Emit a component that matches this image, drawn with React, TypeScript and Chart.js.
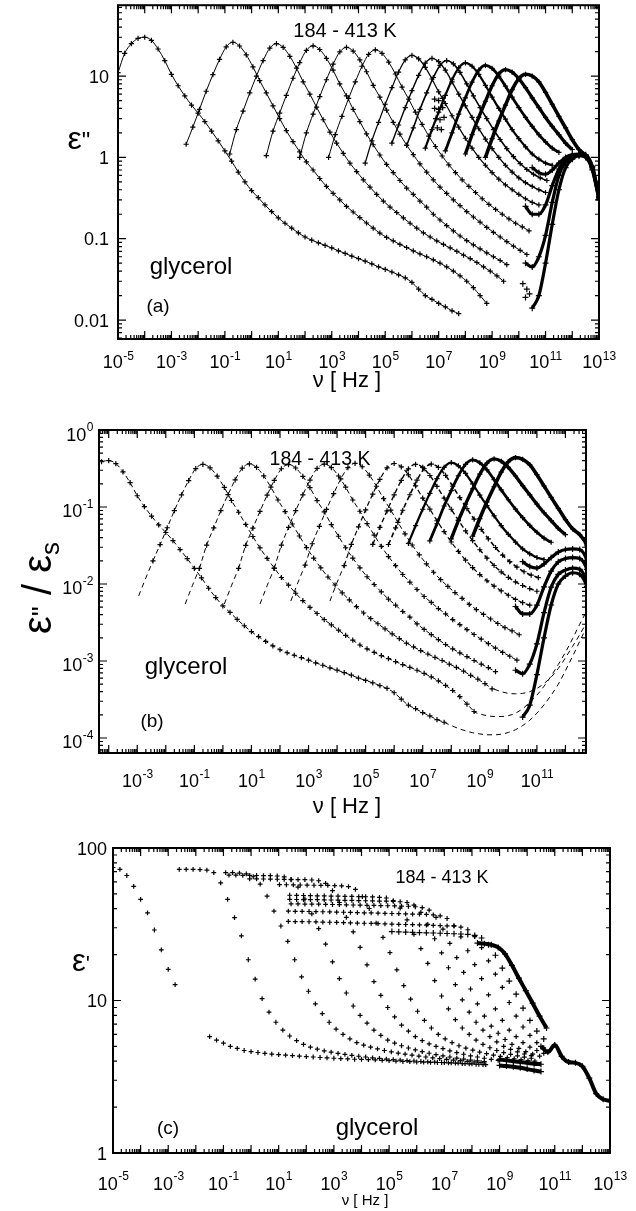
import React, { useEffect, useRef } from "react";
import { Chart, registerables } from "chart.js";

Chart.register(...registerables);

// ---------------- data ----------------
// measured frequencies are spaced by FREQ_STEP decades, starting at the given log10(nu)
const FREQ_STEP = 0.25;

const temperaturesK = [184, 195, 204, 213, 223, 234, 253, 263, 273, 295, 323, 363, 413];
const epsStatic = [75, 72.5, 69, 66, 62.5, 57, 49, 46, 43, 38.5, 33, 28.5, 24];

// panel (a): dielectric loss eps''
const lossStart = [-5.0, -2.45, -0.82, 0.55, 1.8, 2.88, 4.25, 5.25, 5.8, 6.5, 7.25, 8.0, 8.75];
const loss184 = [11, 19, 25, 29, 30, 27.5, 21.5, 15.5, 10.5, 7.6, 5.7, 4.4, 3.5, 2.75, 2.1, 1.6, 1.2, 0.9, 0.66, 0.5, 0.39, 0.32, 0.26, 0.215, 0.18, 0.155, 0.135, 0.118, 0.105, 0.096, 0.089, 0.083, 0.077, 0.071, 0.066, 0.061, 0.057, 0.053, 0.049, 0.045, 0.042, 0.039, 0.036, 0.033, 0.029, 0.024, 0.02, 0.018, 0.016, 0.0145, 0.013, 0.012];
const loss195 = [1.45, 2.35, 3.9, 6.5, 10.4, 16, 22.9, 26, 23.4, 18.2, 13, 8.8, 6.2, 4.3, 3.0, 2.13, 1.56, 1.17, 0.88, 0.7, 0.55, 0.44, 0.36, 0.3, 0.25, 0.213, 0.182, 0.156, 0.135, 0.117, 0.104, 0.094, 0.085, 0.078, 0.071, 0.065, 0.06, 0.055, 0.05, 0.045, 0.04, 0.035, 0.03, 0.025, 0.02, 0.016];
const loss204 = [1.1, 2.2, 3.7, 6.2, 10, 15.5, 22, 25, 22.5, 17.5, 12.5, 8.5, 6.0, 4.15, 2.9, 2.05, 1.5, 1.12, 0.85, 0.67, 0.53, 0.43, 0.35, 0.29, 0.245, 0.21, 0.18, 0.155, 0.135, 0.118, 0.105, 0.094, 0.085, 0.077, 0.07, 0.063, 0.057, 0.051, 0.045, 0.04, 0.035, 0.03];
const loss213 = [1.05, 2.1, 3.5, 5.8, 9.4, 14.6, 20.7, 23.5, 21.2, 16.5, 11.8, 8.0, 5.7, 3.9, 2.75, 1.95, 1.43, 1.07, 0.82, 0.65, 0.52, 0.42, 0.35, 0.29, 0.245, 0.2, 0.17, 0.145, 0.125, 0.108, 0.095, 0.084, 0.075, 0.067, 0.06, 0.054, 0.048];
const loss223 = [1.0, 2.0, 3.4, 5.6, 9.0, 14, 19.8, 22.5, 20.3, 15.8, 11.3, 7.7, 5.5, 3.8, 2.7, 1.93, 1.42, 1.08, 0.83, 0.66, 0.53, 0.43, 0.36, 0.3, 0.255, 0.215, 0.185, 0.16, 0.138, 0.12, 0.105, 0.092, 0.081, 0.072, 0.064];
const loss234 = [1.0, 1.9, 3.2, 5.3, 8.5, 13.2, 18.5, 21, 19, 14.8, 10.6, 7.3, 5.2, 3.6, 2.55, 1.83, 1.36, 1.04, 0.81, 0.65, 0.53, 0.44, 0.37, 0.31, 0.265, 0.23, 0.2, 0.175, 0.155, 0.14, 0.125];
const loss253 = [0.85, 1.6, 2.7, 4.5, 7.2, 11.2, 15.8, 18, 16.3, 12.8, 9.2, 6.4, 4.6, 3.25, 2.35, 1.72, 1.3, 1.0, 0.8, 0.65, 0.54, 0.46, 0.4, 0.35, 0.31, 0.28, 0.26];
const loss263 = [1.5, 2.5, 4.1, 6.6, 10.2, 14.4, 16.5, 15, 11.8, 8.5, 6.0, 4.3, 3.1, 2.25, 1.68, 1.28, 1.0, 0.8, 0.66, 0.56, 0.49, 0.44, 0.4, 0.37];
const loss273 = [1.4, 2.3, 3.9, 6.2, 9.6, 13.5, 15.5, 14.1, 11.1, 8.0, 5.7, 4.1, 3.0, 2.2, 1.66, 1.28, 1.02, 0.84, 0.71, 0.62, 0.56, 0.52];
const loss295 = [1.3, 2.2, 3.6, 5.8, 9.0, 12.6, 14.5, 13.2, 10.5, 7.7, 5.5, 4.0, 2.95, 2.2, 1.7, 1.35, 1.1, 0.95, 0.85, 0.8];
const loss323 = [1.2, 2.0, 3.4, 5.4, 8.4, 11.8, 13.5, 12.4, 10.0, 7.5, 5.5, 4.1, 3.1, 2.4, 1.9, 1.55, 1.3, 1.15];
const loss363 = [1.1, 1.9, 3.1, 4.9, 7.6, 10.6, 12, 11.2, 9.3, 7.2, 5.4, 4.1, 3.1, 2.4, 1.9, 1.5, 1.25];
const loss413 = [1.0, 1.7, 2.8, 4.4, 6.8, 9.3, 10.5, 10.0, 8.5, 6.3, 4.5, 3.2, 2.3, 1.65, 1.25, 1.05, 0.75, 0.32];

// high-frequency (GHz-THz) loss data
const hfLossStart = [10.5, 10.25, 10.25, 10.5];
const hfLossTempIndex = [0, 3, 6, 9];
const hfLoss184 = [0.014, 0.02, 0.05, 0.15, 0.4, 0.75, 0.95, 1.05, 1.0, 0.7, 0.3];
const hfLoss213 = [0.05, 0.045, 0.06, 0.11, 0.28, 0.6, 0.88, 1.0, 1.06, 1.02, 0.72, 0.31];
const hfLoss253 = [0.25, 0.2, 0.2, 0.26, 0.45, 0.72, 0.95, 1.05, 1.08, 1.05, 0.76, 0.32];
const hfLoss295 = [0.75, 0.65, 0.62, 0.7, 0.85, 1.0, 1.08, 1.1, 1.08, 0.78, 0.33];

// sparse extra points
const sparseLogNu = [6.85, 7.0, 7.15, 6.85, 7.0, 7.15, 6.9, 7.05, 7.2, 6.95, 7.1, 10.15, 10.3, 10.4, 10.25];
const sparseLoss = [5.2, 5.0, 5.3, 4.0, 3.9, 4.1, 3.0, 2.9, 3.1, 2.3, 2.2, 0.028, 0.024, 0.021, 0.019];

// panel (b): fit curves (eps''/eps_s) beyond the data
const fitMinStart = [7.75, 8.75, 9.5];
const fitMin184 = [1.6e-4, 1.45e-4, 1.33e-4, 1.24e-4, 1.17e-4, 1.13e-4, 1.1e-4, 1.1e-4, 1.12e-4, 1.18e-4, 1.28e-4, 1.45e-4, 1.7e-4, 2.1e-4, 2.7e-4, 3.6e-4, 5e-4, 7.5e-4, 1.15e-3, 1.8e-3, 2.8e-3];
const fitMin195 = [2.2e-4, 2.05e-4, 1.95e-4, 1.9e-4, 1.9e-4, 1.95e-4, 2.1e-4, 2.4e-4, 2.9e-4, 3.6e-4, 4.7e-4, 6.4e-4, 9e-4, 1.3e-3, 1.95e-3, 3e-3, 4.5e-3];
const fitMin204 = [4.3e-4, 4.0e-4, 3.8e-4, 3.75e-4, 3.8e-4, 4.0e-4, 4.4e-4, 5.1e-4, 6.2e-4, 8e-4, 1.1e-3, 1.55e-3, 2.2e-3, 3.2e-3];
const fitLowLogNu = [-2.95, -1.32, 0.05, 1.3, 2.38, 3.75];
const fitLowA = [0.007, 0.0055, 0.0055, 0.0055, 0.006, 0.006];
const fitLowB = [0.012, 0.0095, 0.0095, 0.0095, 0.0105, 0.0105];

// panel (c): dielectric constant eps'
const realStart = [-5.0, -2.6, -0.92, -0.8, -0.05, 1.03, 1.4, 1.4, 1.45, 1.35, 1.35, 5.1, 8.2];
const real184 = [74.5, 72.5, 66, 56, 46, 37.5, 29, 21.5, 16, 12.7];
const real195 = [72.5, 72.5, 72.4, 72.2, 71.5, 69, 59, 46, 35, 26.5, 18.5, 13.8, 10.3, 8.4, 7.2, 6.4, 5.85, 5.45, 5.15, 4.95, 4.8, 4.68, 4.58, 4.5, 4.43, 4.37, 4.31, 4.26, 4.21, 4.17, 4.13, 4.1, 4.07, 4.04, 4.01, 3.98, 3.96, 3.94, 3.92, 3.9, 3.88, 3.86, 3.84, 3.82, 3.8];
const real204 = [69.0, 68.9, 68.5, 67.7, 64.8, 58.0, 48.3, 38.6, 30.8, 24.4, 18.5, 14.3, 11.5, 9.5, 8.2, 7.2, 6.5, 6.0, 5.6, 5.3, 5.1, 4.95, 4.82, 4.7, 4.6, 4.52, 4.45, 4.38, 4.32, 4.26, 4.21, 4.16, 4.11, 4.07, 4.03, 3.99, 3.95, 3.92];
const real213 = [66.4, 66.3, 66.2, 66.1, 66.0, 65.9, 65.8, 65.5, 64.7, 61.9, 55.4, 46.3, 37.0, 29.6, 23.4, 17.9, 13.9, 11.2, 9.2, 8.0, 7.1, 6.4, 5.9, 5.5, 5.25, 5.05, 4.88, 4.74, 4.62, 4.51, 4.42, 4.34, 4.26, 4.19, 4.13, 4.07, 4.02, 3.97];
const real223 = [62.8, 62.7, 62.6, 62.5, 62.4, 62.3, 62.2, 62.1, 62.0, 61.7, 61.0, 58.7, 52.6, 43.9, 35.1, 28.2, 22.3, 17.1, 13.3, 10.8, 9.0, 7.8, 6.9, 6.3, 5.8, 5.45, 5.2, 5.0, 4.83, 4.68, 4.55, 4.44, 4.34, 4.26, 4.18, 4.11, 4.05];
const real234 = [57.5, 57.4, 57.3, 57.2, 57.1, 57.0, 56.9, 56.8, 56.7, 56.4, 55.8, 53.6, 48.0, 40.1, 32.2, 25.9, 20.6, 15.9, 12.5, 10.2, 8.5, 7.4, 6.6, 6.0, 5.6, 5.3, 5.05, 4.87, 4.72, 4.59, 4.48, 4.38, 4.3, 4.22, 4.15, 4.09, 4.04, 4.0];
const real253 = [49.0, 48.9, 48.8, 48.7, 48.6, 48.5, 48.4, 48.3, 48.2, 48.1, 48.0, 47.9, 47.8, 47.5, 47.0, 45.2, 40.4, 33.8, 27.1, 21.9, 17.5, 13.5, 10.7, 8.8, 7.5, 6.6, 6.0, 5.5, 5.15, 4.9, 4.7, 4.55, 4.43, 4.33, 4.25, 4.18];
const real263 = [46.0, 45.95, 45.9, 45.85, 45.8, 45.7, 45.6, 45.5, 45.4, 45.3, 45.2, 45.1, 45.0, 44.9, 44.8, 44.7, 44.4, 43.9, 42.2, 37.8, 31.6, 25.4, 20.5, 16.4, 12.7, 10.1, 8.4, 7.2, 6.4, 5.8, 5.35, 5.0, 4.78, 4.6, 4.46, 4.35];
const real273 = [43.0, 42.95, 42.9, 42.85, 42.8, 42.7, 42.6, 42.5, 42.4, 42.3, 42.2, 42.1, 42.0, 41.9, 41.8, 41.7, 41.6, 41.5, 41.2, 40.7, 39.1, 35.1, 29.4, 23.7, 19.1, 15.3, 11.9, 9.5, 7.9, 6.8, 6.1, 5.55, 5.15, 4.85, 4.62, 4.45, 4.32];
const real295 = [38.5, 38.45, 38.4, 38.35, 38.3, 38.2, 38.1, 38.0, 37.9, 37.8, 37.7, 37.6, 37.5, 37.4, 37.3, 37.2, 37.1, 37.0, 36.9, 36.8, 36.7, 36.4, 35.9, 34.5, 31.0, 26.1, 21.2, 17.2, 13.9, 10.9, 8.8, 7.4, 6.4, 5.8, 5.3, 4.95, 4.7, 4.5];
const real323 = [33.0, 32.95, 32.9, 32.85, 32.8, 32.7, 32.6, 32.5, 32.4, 32.3, 32.2, 32.1, 32.0, 31.9, 31.8, 31.7, 31.6, 31.5, 31.4, 31.3, 31.2, 31.1, 31.0, 30.9, 30.7, 30.3, 29.1, 26.2, 22.2, 18.2, 14.9, 12.2, 9.7, 7.9, 6.7, 5.9, 5.3, 4.9];
const real363 = [28.3, 28.2, 28.1, 28.0, 27.9, 27.8, 27.7, 27.6, 27.5, 27.4, 27.3, 27.1, 26.7, 25.7, 23.2, 19.8, 16.3, 13.4, 11.0, 8.9, 7.4, 6.3, 5.6];
const real413 = [23.8, 23.6, 23.2, 22.3, 20.2, 17.0, 14.0, 11.6, 9.6, 7.9, 6.6];
const real184HighStart = -1.5;
const real184High = [5.8, 5.5, 5.25, 5.0, 4.85, 4.7, 4.62, 4.56, 4.5, 4.45, 4.41, 4.38, 4.35, 4.32, 4.29, 4.26, 4.23, 4.2, 4.18, 4.16, 4.14, 4.12, 4.11, 4.1, 4.08, 4.05, 4.03, 4.0, 3.98, 3.97, 3.95, 3.94, 3.93, 3.92, 3.91, 3.9, 3.88, 3.86, 3.84, 3.82, 3.8];
const hfRealStart = [9.0, 9.0];
const hfRealLow = [3.75, 3.72, 3.68, 3.62, 3.55, 3.48, 3.42];
const hfRealHigh = [4.1, 4.05, 4.0, 3.95, 3.9, 3.85, 3.82];
const farIrStart = 10.5;
const farIrReal = [5.0, 4.6, 5.1, 4.3, 3.95, 3.9, 3.7, 3.1, 2.45, 2.25, 2.2];

// tick labels
const decadeLabelsAC = [-5, -3, -1, 1, 3, 5, 7, 9, 11, 13];
const decadeLabelsB = [-3, -1, 1, 3, 5, 7, 9, 11];
const yTickValuesA = [10, 1, 0.1, 0.01];
const yTickTextA = ["10", "1", "0.1", "0.01"];
const yTickExpB = [0, -1, -2, -3, -4];
const yTickValuesC = [100, 10, 1];
const yTickTextC = ["100", "10", "1"];

// ---------------- styling / assembly ----------------
const FONT = '"Liberation Sans", Arial, Helvetica, sans-serif';
const lossSeries = [loss184, loss195, loss204, loss213, loss223, loss234, loss253, loss263, loss273, loss295, loss323, loss363, loss413];
const hfLossSeries = [hfLoss184, hfLoss213, hfLoss253, hfLoss295];
const fitMinSeries = [fitMin184, fitMin195, fitMin204];
const realSeries = [real184, real195, real204, real213, real223, real234, real253, real263, real273, real295, real323, real363, real413];
const hfRealSeries = [hfRealLow, hfRealHigh];
const lossLineWidth = [1, 1, 1, 1, 1, 1, 1.2, 1.4, 1.6, 2.2, 2.8, 3.4, 3.6];

type XY = { x: number; y: number };
function toPoints(startExp: number, values: number[], divisor = 1): XY[] {
  return values.map((v, i) => ({ x: Math.pow(10, startExp + i * FREQ_STEP), y: v / divisor }));
}
function style(width: number, dash: number[] | null, radius: number, line: boolean) {
  return {
    showLine: line,
    borderColor: "#000",
    backgroundColor: "#000",
    borderWidth: width,
    borderDash: dash ?? [],
    pointStyle: "cross",
    pointRadius: radius,
    pointBorderWidth: 1.2,
    pointBorderColor: "#000",
    pointBackgroundColor: "#000",
    cubicInterpolationMode: "monotone",
  };
}

const datasetsA = [
  ...lossSeries.map((vals, i) => ({ data: toPoints(lossStart[i], vals), ...style(lossLineWidth[i], null, 2.6, true) })),
  ...hfLossSeries.map((vals, j) => ({ data: toPoints(hfLossStart[j], vals), ...style(3.2, null, 3, true) })),
  { data: sparseLogNu.map((e, i) => ({ x: Math.pow(10, e), y: sparseLoss[i] })), ...style(1, null, 3, false) },
];

const datasetsB = [
  ...lossSeries.map((vals, i) => ({
    data: toPoints(lossStart[i], vals, epsStatic[i]),
    ...style(lossLineWidth[i], lossLineWidth[i] > 2 ? null : [5, 3], 2.6, true),
  })),
  ...hfLossSeries.map((vals, j) => ({ data: toPoints(hfLossStart[j], vals, epsStatic[hfLossTempIndex[j]]), ...style(3.2, null, 3, true) })),
  ...fitMinSeries.map((vals, k) => ({ data: toPoints(fitMinStart[k], vals), ...style(1, [5, 4], 0, true) })),
  ...fitLowLogNu.map((e, j) => ({
    data: [
      { x: Math.pow(10, e), y: fitLowA[j] },
      { x: Math.pow(10, e + FREQ_STEP), y: fitLowB[j] },
      { x: Math.pow(10, lossStart[j + 1]), y: lossSeries[j + 1][0] / epsStatic[j + 1] },
    ],
    ...style(1, [5, 4], 0, true),
  })),
];

const datasetsC = [
  ...realSeries.map((vals, i) => ({
    data: toPoints(realStart[i], vals),
    ...style(i === 12 ? 4 : 0, null, i >= 11 ? 3 : 2.4, i === 12),
  })),
  { data: toPoints(real184HighStart, real184High), ...style(0, null, 2.4, false) },
  ...hfRealSeries.map((vals, j) => ({ data: toPoints(hfRealStart[j], vals), ...style(4, null, 3, true) })),
  { data: toPoints(farIrStart, farIrReal), ...style(4, null, 3, true) },
];

type Part = { t: string; size: number; dy?: number };
type TextItem = { parts: Part[]; x: number; y: number; rotate?: boolean };
type YLabel = { v: number; text?: string; exp?: number };
type Panel = {
  top: number;
  height: number;
  pad: { left: number; right: number; top: number; bottom: number };
  xMin: number; xMax: number; yMin: number; yMax: number;
  xExps: number[]; xBase: number; xRise: number;
  yLabels: YLabel[]; yRight: number; yDy: number; yRise: number;
  texts: TextItem[];
  datasets: any[];
};

const panels: Panel[] = [
  {
    top: 0, height: 400,
    pad: { left: 118, right: 37, top: 5, bottom: 61 },
    xMin: 1e-5, xMax: 1e13, yMin: 0.00585, yMax: 74.3,
    xExps: decadeLabelsAC, xBase: 368, xRise: 8,
    yLabels: yTickValuesA.map((v, i) => ({ v, text: yTickTextA[i] })), yRight: 109, yDy: 6.5, yRise: 0,
    texts: [
      { parts: [{ t: "ε", size: 32 }, { t: '"', size: 24 }], x: 79, y: 149 },
      { parts: [{ t: "184 - 413 K", size: 20 }], x: 345, y: 37 },
      { parts: [{ t: "glycerol", size: 24 }], x: 191, y: 274 },
      { parts: [{ t: "(a)", size: 19 }], x: 158, y: 312 },
      { parts: [{ t: "ν [ Hz ]", size: 22 }], x: 347, y: 387 },
    ],
    datasets: datasetsA,
  },
  {
    top: 400, height: 420,
    pad: { left: 99, right: 50, top: 30, bottom: 67 },
    xMin: Math.pow(10, -4.34), xMax: Math.pow(10, 12.72), yMin: Math.pow(10, -4.195), yMax: 1,
    xExps: decadeLabelsB, xBase: 387, xRise: 9,
    yLabels: yTickExpB.map((e) => ({ v: Math.pow(10, e), exp: e })), yRight: 93, yDy: 10.5, yRise: 9.5,
    texts: [
      { parts: [{ t: "ε", size: 40 }, { t: '"', size: 28 }, { t: " / ", size: 40 }, { t: "ε", size: 40 }, { t: "s", size: 26, dy: 8 }], x: 40, y: 188, rotate: true },
      { parts: [{ t: "184 - 413 K", size: 19.5 }], x: 320, y: 65 },
      { parts: [{ t: "glycerol", size: 24 }], x: 186, y: 274 },
      { parts: [{ t: "(b)", size: 19 }], x: 152, y: 327 },
      { parts: [{ t: "ν [ Hz ]", size: 22 }], x: 347, y: 413 },
    ],
    datasets: datasetsB,
  },
  {
    top: 800, height: 411,
    pad: { left: 113, right: 26, top: 48, bottom: 58 },
    xMin: 1e-5, xMax: 1e13, yMin: 1, yMax: 100,
    xExps: decadeLabelsAC, xBase: 390, xRise: 10,
    yLabels: yTickValuesC.map((v, i) => ({ v, text: yTickTextC[i] })), yRight: 107, yDy: 6.5, yRise: 0,
    texts: [
      { parts: [{ t: "ε", size: 31 }, { t: "'", size: 22 }], x: 81, y: 171 },
      { parts: [{ t: "184 - 413 K", size: 18 }], x: 442, y: 83 },
      { parts: [{ t: "(c)", size: 19 }], x: 168, y: 334 },
      { parts: [{ t: "glycerol", size: 24 }], x: 377, y: 335 },
      { parts: [{ t: "ν [ Hz ]", size: 15 }], x: 365, y: 405 },
    ],
    datasets: datasetsC,
  },
];

function logTicks(min: number, max: number) {
  const out: { v: number; major: boolean }[] = [];
  for (let k = Math.floor(Math.log10(min)); k <= Math.ceil(Math.log10(max)); k++) {
    for (let m = 1; m <= 9; m++) {
      const v = m * Math.pow(10, k);
      if (v >= min * 0.9999 && v <= max * 1.0001) out.push({ v, major: m === 1 });
    }
  }
  return out;
}

function drawPower(ctx: CanvasRenderingContext2D, x: number, base: number, exp: number, align: "center" | "right", rise: number) {
  const big = `18px ${FONT}`;
  const small = `12px ${FONT}`;
  ctx.font = big;
  const w1 = ctx.measureText("10").width;
  ctx.font = small;
  const es = String(exp);
  const w2 = ctx.measureText(es).width;
  const left = align === "center" ? x - (w1 + w2) / 2 : x - (w1 + w2);
  ctx.textAlign = "left";
  ctx.textBaseline = "alphabetic";
  ctx.font = big;
  ctx.fillText("10", left, base);
  ctx.font = small;
  ctx.fillText(es, left + w1 + 0.5, base - rise);
}

function drawText(ctx: CanvasRenderingContext2D, item: TextItem) {
  ctx.save();
  ctx.textAlign = "left";
  ctx.textBaseline = "alphabetic";
  const widths = item.parts.map((p) => {
    ctx.font = `${p.size}px ${FONT}`;
    return ctx.measureText(p.t).width;
  });
  const total = widths.reduce((a, b) => a + b, 0);
  ctx.translate(item.x, item.y);
  let base = 0;
  if (item.rotate) {
    ctx.rotate(-Math.PI / 2);
    base = item.parts[0].size * 0.27;
  }
  let cx = -total / 2;
  item.parts.forEach((p, i) => {
    ctx.font = `${p.size}px ${FONT}`;
    ctx.fillText(p.t, cx, base + (p.dy ?? 0));
    cx += widths[i];
  });
  ctx.restore();
}

function makeDecor(cfg: Panel) {
  return {
    id: "decor",
    afterDraw(chart: any) {
      const ctx: CanvasRenderingContext2D = chart.ctx;
      const a = chart.chartArea;
      const xs = chart.scales.x;
      const ys = chart.scales.y;
      ctx.save();
      ctx.strokeStyle = "#000";
      ctx.fillStyle = "#000";
      ctx.lineWidth = 1.2;
      ctx.beginPath();
      logTicks(cfg.xMin, cfg.xMax).forEach(({ v, major }) => {
        const p = xs.getPixelForValue(v);
        const len = major ? 8 : 4;
        ctx.moveTo(p, a.bottom);
        ctx.lineTo(p, a.bottom - len);
        ctx.moveTo(p, a.top);
        ctx.lineTo(p, a.top + len);
      });
      logTicks(cfg.yMin, cfg.yMax).forEach(({ v, major }) => {
        const p = ys.getPixelForValue(v);
        const len = major ? 8 : 4;
        ctx.moveTo(a.left, p);
        ctx.lineTo(a.left + len, p);
        ctx.moveTo(a.right, p);
        ctx.lineTo(a.right - len, p);
      });
      ctx.stroke();
      ctx.lineWidth = 2;
      ctx.strokeRect(a.left, a.top, a.right - a.left, a.bottom - a.top);

      cfg.xExps.forEach((e) => {
        const p = xs.getPixelForValue(Math.pow(10, e));
        drawPower(ctx, p, cfg.xBase, e, "center", cfg.xRise);
      });
      cfg.yLabels.forEach((l) => {
        const p = ys.getPixelForValue(l.v);
        if (l.exp !== undefined) {
          drawPower(ctx, cfg.yRight, p + cfg.yDy, l.exp, "right", cfg.yRise);
        } else {
          ctx.font = `18px ${FONT}`;
          ctx.textAlign = "right";
          ctx.textBaseline = "alphabetic";
          ctx.fillText(l.text ?? "", cfg.yRight, p + cfg.yDy);
        }
      });
      cfg.texts.forEach((t) => drawText(ctx, t));
      ctx.restore();
    },
  };
}

function PanelChart({ cfg }: { cfg: Panel }) {
  const ref = useRef<HTMLCanvasElement | null>(null);
  useEffect(() => {
    if (!ref.current) return;
    const chart = new Chart(ref.current, {
      type: "scatter",
      data: { datasets: cfg.datasets },
      options: {
        responsive: false,
        animation: false,
        events: [],
        layout: { padding: cfg.pad },
        plugins: { legend: { display: false }, tooltip: { enabled: false } },
        scales: {
          x: { type: "logarithmic", min: cfg.xMin, max: cfg.xMax, display: false },
          y: { type: "logarithmic", min: cfg.yMin, max: cfg.yMax, display: false },
        },
      } as any,
      plugins: [makeDecor(cfg)],
    });
    return () => chart.destroy();
  }, [cfg]);
  return (
    <canvas
      ref={ref}
      width={636}
      height={cfg.height}
      style={{ position: "absolute", left: 0, top: cfg.top, width: 636, height: cfg.height }}
    />
  );
}

export default function App() {
  return (
    <div style={{ position: "absolute", left: 0, top: 0, width: 636, height: 1211, background: "#fff", overflow: "hidden" }}>
      {panels.map((p, i) => (
        <PanelChart key={i} cfg={p} />
      ))}
    </div>
  );
}
